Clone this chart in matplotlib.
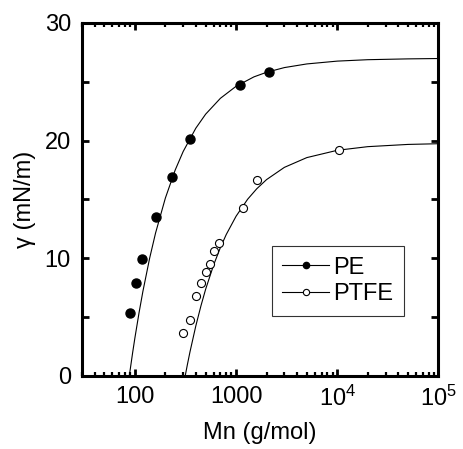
import matplotlib
matplotlib.use("Agg")
import matplotlib.pyplot as plt
from matplotlib.ticker import FixedLocator, LogLocator, NullFormatter, MultipleLocator

plt.rcParams['font.family'] = ['Liberation Sans', 'DejaVu Sans']
plt.rcParams['mathtext.fontset'] = 'custom'
plt.rcParams['mathtext.rm'] = 'Liberation Sans'
plt.rcParams['mathtext.it'] = 'Liberation Sans'

# measured points
pe_mn = [89, 103.5, 118, 162, 234, 352, 1097, 2134]
pe_gamma = [5.33, 7.88, 9.91, 13.48, 16.93, 20.11, 24.75, 25.85]

ptfe_mn = [298, 351, 400, 451, 501, 549, 601, 673, 1167, 1625, 10500]
ptfe_gamma = [3.63, 4.79, 6.77, 7.9, 8.86, 9.5, 10.6, 11.27, 14.27, 16.63, 19.23]

# fitted curves
pe_fit_mn = [88, 95, 100, 110, 120, 140, 160, 200, 250, 300, 400, 500, 700,
             1000, 1500, 2000, 3000, 5000, 10000, 20000, 50000, 100000]
pe_fit_gamma = [0.0, 1.99, 3.24, 5.40, 7.20, 10.03, 12.15, 15.12, 17.50, 19.08,
                21.06, 22.25, 23.60, 24.62, 25.42, 25.81, 26.21, 26.52, 26.76,
                26.88, 26.95, 26.98]

ptfe_fit_mn = [314, 330, 350, 400, 450, 500, 600, 700, 800, 1000, 1300, 1600,
               2000, 3000, 5000, 10000, 20000, 50000, 100000]
ptfe_fit_gamma = [0.0, 0.96, 2.04, 4.26, 5.98, 7.37, 9.44, 10.92, 12.03, 13.58,
                  15.02, 15.91, 16.69, 17.73, 18.56, 19.18, 19.49, 19.68, 19.74]

x_ticks = [100, 1000, 10000, 100000]
x_ticklabels = ['100', '1000', r'10$^{4}$', r'10$^{5}$']
y_ticks = [0, 10, 20, 30]

FS = 17

fig = plt.figure(figsize=(4.63, 4.49), dpi=100)
ax = fig.add_axes([0.1771, 0.1626, 0.947 - 0.1771, 0.9488 - 0.1626])

ax.plot(pe_fit_mn, pe_fit_gamma, color='black', lw=0.8)
ax.plot(ptfe_fit_mn, ptfe_fit_gamma, color='black', lw=0.8)
ax.plot(pe_mn, pe_gamma, 'o', color='black', ms=6.5, zorder=3)
ax.plot(ptfe_mn, ptfe_gamma, 'o', mfc='white', mec='black', mew=0.8, ms=5.8, zorder=3)

# legend handles
h1, = ax.plot([], [], '-o', color='black', lw=0.8, ms=4.5, label='PE')
h2, = ax.plot([], [], '-o', color='black', mfc='white', mec='black', mew=0.8,
              lw=0.8, ms=4.5, label='PTFE')
leg = ax.legend(handles=[h1, h2], loc='upper left', bbox_to_anchor=(0.532, 0.368),
                fontsize=FS, frameon=True, fancybox=False, handlelength=2.0,
                handletextpad=0.15, borderpad=0.45, labelspacing=0.2,
                borderaxespad=0)
leg.get_frame().set_edgecolor('black')
leg.get_frame().set_linewidth(0.8)

ax.set_xscale('log')
ax.set_xlim(30, 1e5)
ax.set_ylim(0, 30)

ax.xaxis.set_major_locator(FixedLocator(x_ticks))
ax.set_xticklabels(x_ticklabels)
ax.xaxis.set_minor_locator(LogLocator(base=10, subs=range(2, 10)))
ax.xaxis.set_minor_formatter(NullFormatter())
ax.yaxis.set_major_locator(FixedLocator(y_ticks))
ax.yaxis.set_minor_locator(MultipleLocator(5))

for s in ax.spines.values():
    s.set_linewidth(2.2)

ax.tick_params(which='both', direction='in', top=True, right=True,
               labelsize=FS, width=2.0)
ax.tick_params(which='major', length=5)
ax.tick_params(axis='x', which='major', pad=7)
ax.tick_params(axis='y', which='major', pad=8)
ax.tick_params(axis='y', which='minor', length=5, width=2.0)
ax.tick_params(axis='x', which='minor', length=3, width=1.6)

ax.set_xlabel('Mn (g/mol)', fontsize=FS, labelpad=8)
ax.set_ylabel('γ (mN/m)', fontsize=FS, labelpad=6)

fig.savefig('out.png', dpi=100)
